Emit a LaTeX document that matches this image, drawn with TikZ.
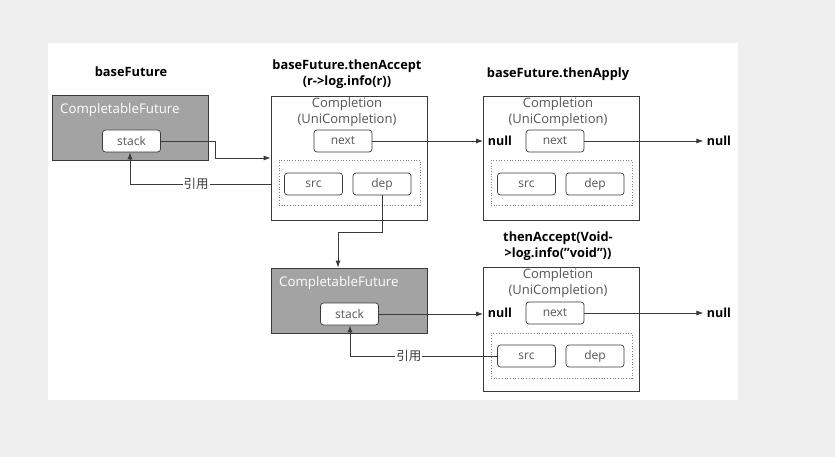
\documentclass[tikz,border=0pt]{standalone}
\usepackage{fontspec}
\setmainfont{Open Sans}
\newfontfamily\cjk{Noto Sans CJK SC}
\usetikzlibrary{arrows.meta}
\definecolor{bggray}{HTML}{EFEFEF}
\definecolor{boxgray}{HTML}{A3A3A3}
\definecolor{linecol}{HTML}{3A3A3A}
\definecolor{txtgray}{HTML}{555555}
\begin{document}
\begin{tikzpicture}[x=1pt,y=-1pt,
  font=\fontsize{12}{13}\selectfont,
  outer/.style={draw=linecol,line width=0.8pt,fill=white,minimum width=156pt,minimum height=124pt,inner sep=0pt},
  cf/.style={draw=linecol,line width=0.8pt,fill=boxgray,minimum width=156pt,minimum height=65pt,inner sep=0pt},
  field/.style={draw=linecol,line width=0.7pt,fill=white,rounded corners=3pt,minimum width=58pt,minimum height=22pt,inner sep=0pt,text=txtgray,font=\fontsize{12}{13}\selectfont},
  grp/.style={draw=gray,dotted,line width=0.7pt,minimum width=141pt,minimum height=45pt,inner sep=0pt},
  title/.style={font=\fontsize{12.8}{16}\selectfont\bfseries,align=center,text=black},
  cfl/.style={text=white,font=\fontsize{13.3}{14}\selectfont,anchor=west,inner sep=0pt},
  ctext/.style={text=txtgray,align=center,font=\fontsize{13}{15.5}\selectfont},
  nul/.style={font=\fontsize{12.5}{13}\selectfont\bfseries},
  conn/.style={draw=linecol,line width=0.8pt},
  arr/.style={conn,-{Latex[length=7pt,width=5pt]}},
  lbl/.style={fill=white,inner sep=1pt,text=linecol,font=\cjk\fontsize{12.5}{13}\selectfont}
]
\useasboundingbox (0,0) rectangle (835,457);
\fill[bggray] (0,0) rectangle (835,457);
\fill[white] (48,43) rectangle (738,400);

% titles
\node[title] (t1) at (131,72) {baseFuture};
\node[title] (t2) at (347,74) {baseFuture.thenAccept\\(r->log.info(r))};
\node[title] (t3) at (558,74) {baseFuture.thenApply};
\node[title] (t4) at (558,246) {thenAccept(Void-\\>log.info(\symbol{34}void\symbol{34}))};

% completable future 1
\node[cf] (cf1) at (130.5,128) {};
\node[cfl] (cf1l) at (60,110) {CompletableFuture};
\node[field] (stack1) at (131.5,141) {stack};

% completion 1
\node[outer] (c1) at (349,158) {};
\node[ctext] (c1t) at (347,112) {Completion\\(UniCompletion)};
\node[field] (next1) at (343,141) {next};
\node[grp] (g1) at (349.5,182.5) {};
\node[field] (src1) at (313.5,184) {src};
\node[field] (dep1) at (382,184) {dep};

% completion 2
\node[outer] (c2) at (561.5,158) {};
\node[ctext] (c2t) at (558,112) {Completion\\(UniCompletion)};
\node[nul] (n2) at (500,141) {null};
\node[field] (next2) at (555,141) {next};
\node[grp] (g2) at (561.5,183) {};
\node[field] (src2) at (526.5,184) {src};
\node[field] (dep2) at (595,184) {dep};
\node[nul] (n2r) at (719,141) {null};

% completable future 2
\node[cf] (cf2) at (349,300.5) {};
\node[cfl] (cf2l) at (279,283) {CompletableFuture};
\node[field] (stack2) at (349.5,314) {stack};

% completion 3
\node[outer] (c3) at (561.5,329) {};
\node[ctext] (c3t) at (558,283) {Completion\\(UniCompletion)};
\node[nul] (n3) at (500,313) {null};
\node[field] (next3) at (555,313) {next};
\node[grp] (g3) at (561.5,355.5) {};
\node[field] (src3) at (526.5,356) {src};
\node[field] (dep3) at (595,356) {dep};
\node[nul] (n3r) at (719,313) {null};

% connectors
\coordinate (k1) at (215,141);
\coordinate (k2) at (215,158);
\draw[arr] (stack1.east) -- (k1) -- (k2) -- (k2 -| c1.west);

\coordinate (r1) at (130,184);
\draw[arr] (c1.west |- r1) -- node[lbl,pos=0.53] (y1) {引用} (r1) -- (r1 |- stack1.south);

\draw[arr] (next1.east) -- (next1.east -| c2.west);
\draw[arr] (next2.east) -- (n2r.west);

\coordinate (d1) at (382,232);
\coordinate (d2) at (338,232);
\draw[arr] (dep1.south) -- (d1) -- (d2) -- (d2 |- cf2.north);

\draw[arr] (stack2.east) -- (stack2.east -| c3.west);
\draw[arr] (next3.east) -- (n3r.west);

\coordinate (r2) at (350,356);
\draw[arr] (src3.west) -- node[lbl,pos=0.6] (y2) {引用} (r2) -- (r2 |- stack2.south);
\end{tikzpicture}
\end{document}
